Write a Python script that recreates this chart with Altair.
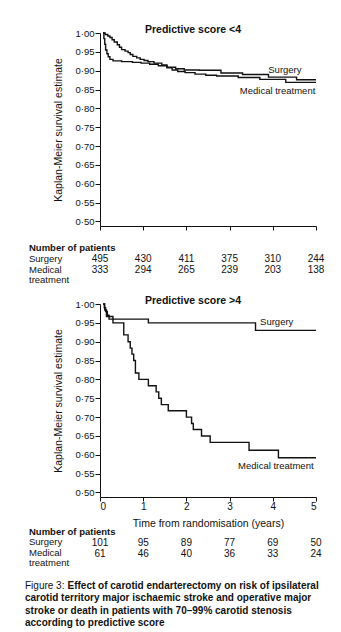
import altair as alt
import pandas as pd

FONT = "Liberation Sans"
INK = "#111111"

# ---------------- data ----------------
years = [0, 1, 2, 3, 4, 5]
y_ticks = [0.50, 0.55, 0.60, 0.65, 0.70, 0.75, 0.80, 0.85, 0.90, 0.95, 1.00]

# Predictive score <4
top_surg_t = [0.07, 0.09, 0.11, 0.13, 0.16, 0.19, 0.23, 0.30, 0.50, 0.75, 0.95, 1.15, 1.35,
              1.55, 1.75, 1.95, 2.30, 2.80, 3.30, 3.90, 4.55, 5.00]
top_surg_s = [1.000, 0.985, 0.970, 0.955, 0.945, 0.937, 0.930, 0.926, 0.924, 0.922, 0.920,
              0.917, 0.913, 0.909, 0.905, 0.902, 0.901, 0.894, 0.890, 0.883, 0.876, 0.876]
top_med_t = [0.07, 0.12, 0.18, 0.23, 0.28, 0.33, 0.40, 0.45, 0.50, 0.58, 0.65, 0.70, 0.76,
             0.85, 0.93, 1.02, 1.11, 1.25, 1.43, 1.55, 1.67, 1.80, 1.97, 2.20, 2.45, 2.70,
             3.20, 3.70, 4.30, 5.00]
top_med_s = [1.000, 0.996, 0.992, 0.988, 0.982, 0.976, 0.969, 0.962, 0.956, 0.952, 0.948,
             0.943, 0.938, 0.934, 0.930, 0.927, 0.924, 0.920, 0.915, 0.908, 0.902, 0.898,
             0.895, 0.891, 0.888, 0.886, 0.882, 0.877, 0.869, 0.869]
top_n_surgery = [495, 430, 411, 375, 310, 244]
top_n_medical = [333, 294, 265, 239, 203, 138]

# Predictive score >4
bot_surg_t = [0.07, 0.10, 0.13, 0.17, 0.21, 1.12, 3.60, 5.00]
bot_surg_s = [1.00, 0.99, 0.98, 0.97, 0.96, 0.95, 0.93, 0.93]
bot_med_t = [0.07, 0.11, 0.15, 0.30, 0.55, 0.65, 0.70, 0.74, 0.78, 0.82, 0.90, 1.12, 1.30,
             1.36, 1.42, 1.58, 2.00, 2.12, 2.16, 2.35, 2.55, 3.45, 4.13, 5.00]
bot_med_s = [1.000, 0.984, 0.967, 0.950, 0.918, 0.900, 0.883, 0.867, 0.850, 0.817, 0.800,
             0.783, 0.767, 0.750, 0.733, 0.717, 0.700, 0.683, 0.667, 0.650, 0.633, 0.612,
             0.592, 0.592]
bot_n_surgery = [101, 95, 89, 77, 69, 50]
bot_n_medical = [61, 46, 40, 36, 33, 24]

caption_first_a = "Figure 3:"
caption_first_b = "Effect of carotid endarterectomy on risk of ipsilateral"
caption_lines = [
    "carotid territory major ischaemic stroke and operative major",
    "stroke or death in patients with 70\u201399% carotid stenosis",
    "according to predictive score",
]

W, H = 216, 193
X_SCALE = alt.Scale(domain=[0, 5], nice=False)
Y_SCALE = alt.Scale(domain=[0.488, 1.0], nice=False, zero=False)
BASE_TXT = dict(font=FONT, color=INK, baseline="middle")


def note(txt, x, y, size=9.5, weight="normal", align="left"):
    return alt.Chart(pd.DataFrame({"txt": [txt]})).mark_text(
        align=align, fontSize=size, fontWeight=weight, **BASE_TXT
    ).encode(x=alt.value(x), y=alt.value(y), text="txt:N")


def panel(surg_t, surg_s, med_t, med_s, n_s, n_m, title, bottom, lab_s, lab_m, tbl):
    curves = pd.DataFrame(
        {"t": surg_t + med_t,
         "s": surg_s + med_s,
         "grp": ["Surgery"] * len(surg_t) + ["Medical treatment"] * len(med_t)}
    )
    x_axis = alt.Axis(
        values=years, labels=bottom, labelFontSize=10, labelPadding=0, tickSize=4,
        title="Time from randomisation (years)" if bottom else None,
        titleFont=FONT, titleFontSize=10.5, titleFontWeight="normal", titleColor=INK,
        titleY=26, titleBaseline="middle",
    )
    y_axis = alt.Axis(
        values=y_ticks, labelExpr="replace(format(datum.value, '.2f'), '.', '\u00b7')",
        tickSize=5, labelPadding=1, labelOverlap=False,
        title="Kaplan-Meier survival estimate", titleFont=FONT, titleFontSize=10.5,
        titleFontWeight="normal", titleColor=INK, titleX=-42, titleY=H / 2,
        titleBaseline="middle", titleAngle=270,
    )

    def X(field):
        return alt.X(field, type="quantitative", scale=X_SCALE, axis=x_axis)

    def Y(field):
        return alt.Y(field, type="quantitative", scale=Y_SCALE, axis=y_axis)

    lines = alt.Chart(curves).mark_line(
        interpolate="step-after", color=INK, strokeWidth=1.4
    ).encode(x=X("t"), y=Y("s"), detail="grp:N")

    head = note(title, 93, -3.5, size=10.5, weight="bold", align="center")

    labels = alt.Chart(pd.DataFrame({
        "txt": ["Surgery", "Medical treatment"],
        "t": [lab_s[0], lab_m[0]], "s": [lab_s[1], lab_m[1]],
    })).mark_text(align="center", fontSize=9.5, **BASE_TXT).encode(
        x=X("t"), y=Y("s"), text="txt:N",
    )

    y_head, y_s, y_m, y_tr = tbl
    nums_s = alt.Chart(pd.DataFrame({"t": years, "n": n_s})).mark_text(
        align="center", fontSize=10, **BASE_TXT
    ).encode(x=X("t"), y=alt.value(y_s + 0.7), text="n:Q")
    nums_m = alt.Chart(pd.DataFrame({"t": years, "n": n_m})).mark_text(
        align="center", fontSize=10, **BASE_TXT
    ).encode(x=X("t"), y=alt.value(y_m + 0.7), text="n:Q")

    layers = [
        lines, head, labels, nums_s, nums_m,
        note("Number of patients", -71, y_head, weight="bold"),
        note("Surgery", -71, y_s),
        note("Medical", -71, y_m),
        note("treatment", -71, y_tr),
    ]

    if bottom:
        layers += [
            note(caption_first_a, -75, 281.5, size=10),
            note(caption_first_b, -32.5, 281.5, size=10, weight="bold"),
            note(caption_lines[0], -75, 294, size=10, weight="bold"),
            note(caption_lines[1], -75, 306.5, size=10, weight="bold"),
            note(caption_lines[2], -75, 319, size=10, weight="bold"),
        ]

    return alt.layer(*layers).properties(width=W, height=H)


top = panel(top_surg_t, top_surg_s, top_med_t, top_med_s, top_n_surgery, top_n_medical,
            "Predictive score <4", False, (4.28, 0.903), (4.11, 0.845),
            (215.0, 225.6, 236.6, 246.6))
bottom = panel(bot_surg_t, bot_surg_s, bot_med_t, bot_med_s, bot_n_surgery, bot_n_medical,
               "Predictive score >4", True, (4.09, 0.952), (4.07, 0.571),
               (227.7, 238.3, 249.3, 259.3))

chart = alt.vconcat(top, bottom, spacing=78, bounds="flush").properties(
    padding={"left": 17, "top": 16, "right": 0, "bottom": 0}
).configure_view(stroke=None).configure_axis(
    grid=False, labelFont=FONT, labelFontSize=9.5, labelColor=INK,
    domainColor=INK, tickColor=INK, domainWidth=1, tickWidth=1,
).configure_concat(spacing=78)

chart.save("out.html", embed_options={"renderer": "svg", "actions": False})
